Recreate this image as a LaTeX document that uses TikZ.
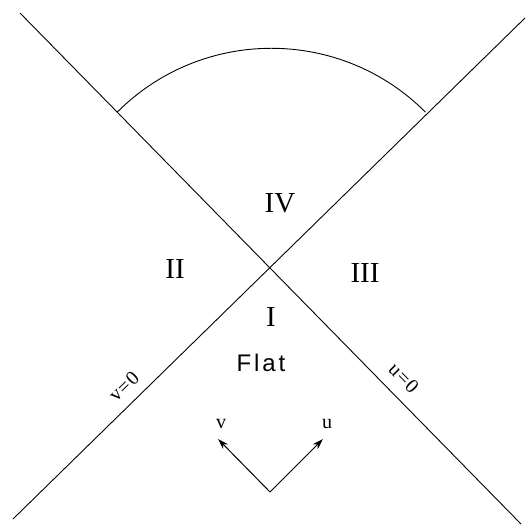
\documentclass[tikz,border=0pt]{standalone}
\usepackage{fontspec}
\setmainfont{Liberation Serif}
\setsansfont{Liberation Sans}
\usetikzlibrary{arrows.meta,positioning,calc}

\begin{document}
\begin{tikzpicture}[
  x=1pt, y=-1pt,
  null/.style={line width=0.9pt, color=black},
  region/.style={font=\fontsize{29}{29}\selectfont},
  flat/.style={font=\sffamily\fontsize{24}{24}\selectfont\addfontfeature{LetterSpace=12}},
  axis/.style={font=\fontsize{20}{20}\selectfont, inner sep=1pt},
  cone/.style={font=\fontsize{20}{20}\selectfont\addfontfeature{LetterSpace=6}, sloped, inner sep=2pt},
  arrow/.style={-{Stealth[length=11pt,width=7pt]}, line width=1pt}
]
\useasboundingbox (0,0) rectangle (526,531);
% the two null lines
\coordinate (nw) at (20,13);
\coordinate (se) at (521,524);
\coordinate (ne) at (525,18);
\coordinate (sw) at (13,519);
\coordinate (c) at (intersection of nw--se and ne--sw);
\draw[null] (nw) -- (se) node[cone, pos=0.74, above=9pt] (uzero) {u=0};
\draw[null] (sw) -- (ne) node[cone, pos=0.24, above=8pt] (vzero) {v=0};
% arc across region IV
\coordinate (arcl) at ($(c)!218pt!(nw)$);
\draw[null] (arcl) arc[start angle=-135, end angle=-45, radius=218];
% regions
\node[region] (IV) at (280,203) {IV};
\node[region] (II) at (175,269) {II};
\node[region] (III) at (365,273) {III};
\node[region] (I) at (271,317) {I};
\node[flat] (flat) at (261,363) {Flat};
% light-cone axes
\coordinate (o) at (270,492);
\node[axis] (v) at (221,424) {v};
\node[axis] (u) at (327,424) {u};
\coordinate (vtip) at (218,439);
\coordinate (utip) at (323,439);
\draw[arrow] (o) -- (vtip);
\draw[arrow] (o) -- (utip);
\end{tikzpicture}
\end{document}
